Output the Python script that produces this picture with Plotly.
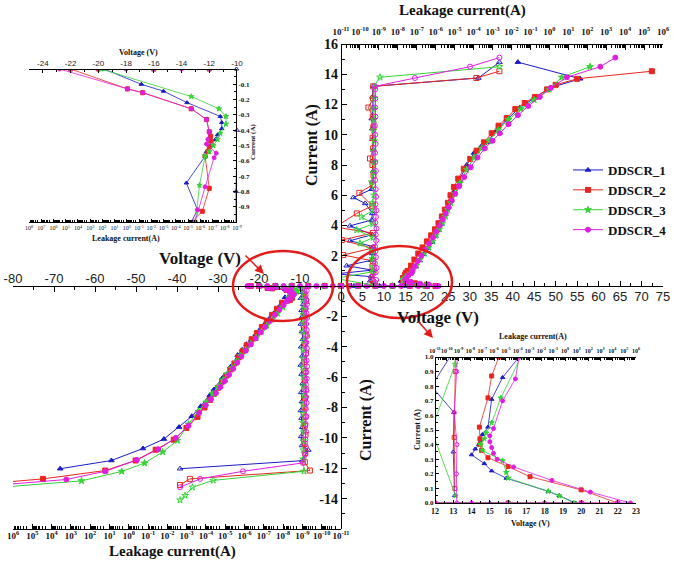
import plotly.graph_objects as go

W, H = 674, 562

series = ["DDSCR_1", "DDSCR_2", "DDSCR_3", "DDSCR_4"]
colors = ["#1c1cc8", "#e8261e", "#33d433", "#e01ee0"]
symbols = ["triangle-up", "square", "star", "circle"]

# ---- positive polarity TLP I-V: voltage (V) and current (A) ----
v_pos_1 = [0.0, 3.0, 6.0, 9.0, 12.0, 15.0, 18.0, 19.7, 18.8, 18.2, 15.9, 15.1, 14.7, 14.0, 14.2, 14.4, 14.5, 14.6, 14.9, 15.1,
           15.7, 16.6, 17.4, 18.3, 19.2, 20.2, 21.2, 22.0, 22.7, 23.4, 24.0, 24.6, 25.2, 26.2, 27.5, 29.3, 31.0, 32.6, 34.0, 36.3,
           38.6, 41.7, 44.8, 48.7, 55.7, 41.2]
i_pos_1 = [0, 0, 0, 0, 0, 0, 0, 0, 0.05, 0.08, 0.17, 0.22, 0.27, 0.33, 0.37, 0.40, 0.43, 0.47, 0.52, 0.71,
           0.86, 1.0, 1.3, 1.7, 2.1, 2.5, 2.9, 3.3, 3.7, 4.1, 4.6, 5.0, 5.5, 6.2, 7.0, 8.0, 8.8, 9.2, 9.5, 10.3,
           11.0, 11.8, 12.4, 13.1, 13.7, 14.8]
v_pos_2 = [0.0, 4.0, 8.0, 12.0, 16.0, 20.0, 22.0, 20.0, 17.2, 16.0, 14.9, 14.55, 14.46, 14.46, 14.43, 14.9, 15.1, 15.5, 16.3, 17.1,
           18.0, 19.0, 20.0, 21.0, 21.9, 22.7, 23.5, 24.2, 24.9, 25.5, 26.3, 27.3, 28.6, 30.1, 31.6, 33.3, 35.1, 36.7, 38.6, 40.6,
           42.8, 45.2, 48.0, 50.0, 55.0, 72.4]
i_pos_2 = [0, 0, 0, 0, 0, 0, 0, 0.09, 0.18, 0.25, 0.31, 0.36, 0.40, 0.44, 0.52, 0.72, 0.87, 1.0, 1.35, 1.75,
           2.15, 2.55, 2.95, 3.35, 3.75, 4.15, 4.6, 5.05, 5.5, 6.0, 6.55, 7.1, 7.75, 8.4, 8.95, 9.5, 10.1, 10.6, 11.1, 11.7,
           12.1, 12.5, 13.0, 13.3, 13.7, 14.2]
v_pos_3 = [0.0, 4.0, 8.0, 12.0, 16.0, 19.6, 18.8, 18.2, 16.0, 15.9, 15.7, 14.6, 14.5, 14.7, 14.8, 15.1, 15.6, 16.7, 17.5, 18.4,
           19.4, 20.4, 21.3, 22.1, 22.9, 23.6, 24.3, 24.9, 25.6, 26.5, 27.7, 29.3, 31.0, 32.8, 34.5, 36.6, 39.0, 41.9, 45.0, 48.5,
           51.4, 58.0]
i_pos_3 = [0, 0, 0, 0, 0, 0, 0.05, 0.08, 0.17, 0.21, 0.29, 0.36, 0.40, 0.44, 0.48, 0.55, 0.72, 1.0, 1.35, 1.75,
           2.15, 2.55, 2.95, 3.35, 3.75, 4.15, 4.6, 5.05, 5.5, 6.1, 6.8, 7.7, 8.5, 9.1, 9.6, 10.3, 11.0, 11.7, 12.3, 13.0,
           13.8, 14.5]
v_pos_4 = [0.0, 2.0, 4.0, 6.0, 8.0, 10.0, 12.0, 14.0, 16.0, 18.0, 20.0, 22.0, 22.7, 20.5, 18.4, 16.3, 15.4, 15.2, 15.1, 15.0,
           15.0, 15.2, 15.7, 16.4, 16.6, 17.2, 17.9, 18.7, 19.6, 20.5, 21.4, 22.2, 23.0, 23.7, 24.4, 25.1, 25.8, 26.6, 27.5, 28.7,
           30.2, 31.8, 33.5, 35.3, 37.0, 39.0, 41.2, 43.6, 46.3, 48.9, 52.6, 60.4, 63.9]
i_pos_4 = [0, 0, 0, 0, 0, 0, 0, 0, 0, 0, 0, 0, 0, 0.075, 0.155, 0.247, 0.30, 0.34, 0.38, 0.42,
           0.46, 0.51, 0.70, 0.85, 1.0, 1.3, 1.65, 2.0, 2.4, 2.8, 3.2, 3.6, 4.0, 4.4, 4.8, 5.2, 5.65, 6.1, 6.6, 7.2,
           7.85, 8.5, 9.1, 9.6, 10.1, 10.7, 11.3, 11.9, 12.5, 13.1, 13.8, 14.5, 15.1]

# ---- positive polarity leakage current (A) measured after each pulse current (A) ----
leak_pos_1 = [4.5e-10, 3.5e-10, 4.0e-10, 5e-12, 4.5e-10, 2.0e-11, 4.0e-10, 4.5e-10, 5.0e-10, 3.0e-11, 4.5e-10, 3.0e-11, 4.2e-10, 4.5e-10,
              1.9e-10, 4.5e-11, 4.2e-10, 4.6e-10, 5.0e-10, 4.8e-10, 5.0e-10, 4.7e-10, 4.5e-10, 4.2e-10, 5.0e-10, 4.6e-10, 5.0e-10, 1.8e-4, 2.3e-3]
li_pos_1 = [0.05, 0.35, 0.62, 0.80, 1.05, 1.34, 1.70, 2.15, 2.60, 2.99, 3.40, 3.98, 4.36, 4.80,
            5.46, 5.85, 6.40, 6.90, 7.60, 8.30, 9.00, 9.70, 10.40, 11.07, 11.80, 12.50, 13.20, 13.75, 14.80]
leak_pos_2 = [4.8e-10, 4.2e-10, 5.2e-10, 4.6e-10, 5.0e-10, 1.3e-11, 4.4e-10, 1.1e-11, 4.8e-10, 5e-12, 6.8e-11, 4.5e-10, 9.3e-11,
              4.8e-10, 5.2e-10, 4.6e-10, 3.4e-10, 5.0e-10, 4.7e-10, 5.1e-10, 4.8e-10, 2.8e-10, 4.9e-10, 5.0e-10, 1.4e-4, 2.3e-3]
li_pos_2 = [0.1, 0.45, 0.9, 1.3, 1.65, 2.05, 2.5, 3.04, 3.5, 3.9, 4.8, 5.3, 6.16,
            6.7, 7.3, 8.0, 8.43, 9.1, 9.8, 10.5, 11.2, 11.8, 12.4, 13.2, 13.75, 14.2]
leak_pos_3 = [5.5e-10, 5e-12, 5.0e-10, 5.0e-10, 4.6e-10, 5.2e-10, 1.0e-10, 5.0e-10, 6.8e-11, 4.8e-10, 1.2e-10, 5.2e-10, 4.6e-10,
              5.5e-10, 4.2e-10, 5.2e-10, 5.6e-10, 5.3e-10, 5.6e-10, 5.4e-10, 5.7e-10, 5.3e-10, 5.5e-10, 5.6e-10, 1.15e-9, 2.3e-3]
li_pos_3 = [0.05, 0.5, 0.95, 1.27, 1.8, 2.3, 2.82, 3.2, 3.7, 4.1, 4.57, 5.0, 5.5,
            6.0, 6.88, 7.5, 8.2, 8.9, 9.6, 10.3, 11.0, 11.7, 12.4, 13.2, 13.8, 14.5]
leak_pos_4 = [7e-10, 6.5e-10, 7.2e-10, 4.2e-10, 6.8e-10, 7.5e-10, 6.2e-10, 7.0e-10, 6.6e-10, 6.3e-10, 7.2e-10, 6.8e-10,
              7.5e-10, 6.4e-10, 7.0e-10, 7.4e-10, 6.6e-10, 7.1e-10, 6.8e-10, 6.3e-10, 6.9e-10, 6.5e-10, 6.2e-10, 6.7e-10,
              6.4e-10, 6.1e-10, 6.6e-10, 6.3e-10, 6.5e-10, 6.4e-10, 6.2e-10, 8.0e-8, 6.5e-5, 2.3e-3]
li_pos_4 = [0.0, 0.2, 0.4, 0.62, 0.9, 1.2, 1.5, 1.9, 2.3, 2.6, 3.0, 3.4,
            3.8, 4.2, 4.57, 5.0, 5.4, 5.9, 6.4, 7.0, 7.6, 8.2, 8.8, 9.4,
            10.0, 10.6, 11.2, 11.8, 12.4, 13.0, 13.2, 13.75, 14.5, 15.1]

# ---- negative polarity TLP I-V ----
v_neg_1 = [0.0, -4.0, -8.0, -12.0, -16.0, -19.6, -16.9, -15.3, -13.6, -11.2, -11.1, -11.1, -11.4, -11.55, -11.9, -12.2, -12.3,
           -13.65, -12.85, -13.3, -15.2, -16.4, -17.5, -18.6, -19.7, -20.8, -21.9, -23.0, -24.1, -25.2, -26.9, -28.9, -31.0,
           -32.0, -34.2, -36.4, -39.5, -43.2, -48.3, -56.0, -68.5]
i_neg_1 = [0, 0, 0, 0, 0, 0, -0.10, -0.145, -0.22, -0.31, -0.35, -0.39, -0.43, -0.46, -0.50, -0.54, -0.57,
           -0.745, -0.92, -1.0, -1.4, -1.8, -2.15, -2.5, -2.85, -3.2, -3.55, -3.83, -4.2, -4.55, -5.32, -6.05, -6.82,
           -7.19, -7.92, -8.58, -9.29, -10.08, -10.7, -11.49, -12.03]
v_neg_2 = [0.0, -4.0, -8.0, -12.0, -16.0, -20.0, -22.0, -17.9, -16.8, -13.3, -12.2, -12.0, -11.9, -11.9, -12.0, -12.1, -12.3,
           -12.0, -12.5, -14.4, -15.6, -16.8, -18.1, -19.3, -20.5, -21.8, -23.0, -24.0, -25.0, -26.0, -27.0, -28.0, -29.0,
           -30.0, -31.0, -32.0, -33.3, -35.0, -37.7, -40.8, -45.2, -50.1, -57.5, -72.7, -90.0]
i_neg_2 = [0, 0, 0, 0, 0, 0, 0, -0.13, -0.155, -0.26, -0.33, -0.41, -0.44, -0.47, -0.51, -0.54, -0.57,
           -0.78, -0.93, -1.1, -1.5, -1.9, -2.3, -2.7, -3.1, -3.5, -3.9, -4.3, -4.7, -5.1, -5.5, -5.9, -6.3,
           -6.7, -7.1, -7.5, -8.0, -8.62, -9.35, -10.12, -10.78, -11.49, -12.15, -12.7, -13.1]
v_neg_3 = [0.0, -4.0, -8.0, -12.0, -16.0, -19.8, -13.3, -11.3, -10.8, -10.8, -11.2, -11.4, -11.7, -12.0, -12.3, -12.7, -13.0,
           -14.2, -15.5, -16.8, -18.1, -19.4, -20.7, -22.0, -23.2, -24.4, -25.5, -26.6, -27.7, -28.8, -30.0, -31.3, -32.9,
           -34.8, -37.2, -39.9, -43.5, -47.9, -53.5, -63.3, -90.0]
i_neg_3 = [0, 0, 0, 0, 0, 0, -0.18, -0.26, -0.31, -0.36, -0.42, -0.46, -0.50, -0.54, -0.57, -0.76, -1.0,
           -1.4, -1.8, -2.2, -2.6, -3.0, -3.4, -3.8, -4.2, -4.6, -5.0, -5.4, -5.8, -6.2, -6.65, -7.1, -7.65,
           -8.25, -9.1, -10.17, -10.93, -11.66, -12.21, -12.83, -13.4]
v_neg_4 = [0.0, -2.0, -4.0, -6.0, -8.0, -10.0, -12.0, -14.0, -16.0, -18.0, -20.0, -22.0, -22.8, -17.9, -16.8, -13.3, -12.2,
           -12.0, -12.1, -12.2, -11.5, -11.65, -12.3, -12.85, -13.2, -14.0, -15.0, -16.1, -17.3, -18.5, -19.6, -20.8, -22.0,
           -23.2, -24.3, -25.3, -26.3, -27.3, -28.3, -29.4, -30.5, -31.7, -33.0, -34.6, -37.2, -40.3, -44.6, -49.8, -57.5,
           -67.0, -90.0]
i_neg_4 = [0, 0, 0, 0, 0, 0, 0, 0, 0, 0, 0, 0, 0, -0.13, -0.155, -0.26, -0.33,
           -0.41, -0.46, -0.49, -0.55, -0.58, -0.77, -0.92, -1.0, -1.25, -1.55, -1.9, -2.3, -2.7, -3.05, -3.45, -3.85,
           -4.25, -4.65, -5.05, -5.45, -5.85, -6.25, -6.65, -7.05, -7.45, -7.85, -8.35, -9.2, -10.0, -10.75, -11.45, -12.2,
           -12.74, -13.25]

# ---- negative polarity leakage current (A) ----
leak_neg_1 = [1.1e-9, 1.0e-9, 1.2e-9, 9e-10, 1.1e-9, 1.0e-9, 1.2e-9, 1.05e-9, 9.5e-10, 1.15e-9, 1.0e-9, 1.2e-9,
              1.1e-9, 9.5e-10, 1.15e-9, 1.05e-9, 1.2e-9, 1.1e-9, 1.0e-9, 1.15e-9, 1.05e-9, 5e-10, 1.0e-9, 2.2e-3]
li_neg_1 = [0, -0.4, -0.8, -1.2, -1.6, -2.0, -2.5, -3.0, -3.5, -4.0, -4.6, -5.2,
            -5.8, -6.4, -7.0, -7.6, -8.2, -8.7, -9.3, -9.9, -10.5, -10.8, -11.5, -12.03]
leak_neg_2 = [7e-10, 8e-10, 6.5e-10, 7.5e-10, 7e-10, 8e-10, 6.8e-10, 7.2e-10, 6.5e-10, 7.8e-10, 7e-10, 7.5e-10,
              6.8e-10, 7.3e-10, 7.8e-10, 7e-10, 7.4e-10, 6.9e-10, 7.6e-10, 7.1e-10, 7.5e-10, 4.1e-10, 6.8e-4, 2.2e-3]
li_neg_2 = [0, -0.5, -1.0, -1.5, -2.0, -2.6, -3.2, -3.8, -4.4, -5.0, -5.6, -6.2,
            -6.8, -7.4, -8.0, -8.6, -9.2, -9.8, -10.4, -11.0, -11.6, -12.15, -12.7, -13.1]
leak_neg_3 = [9e-10, 8.5e-10, 9.5e-10, 8e-10, 9e-10, 8.8e-10, 9.3e-10, 8.5e-10, 9e-10, 8.7e-10, 9.2e-10, 8.6e-10, 9e-10,
              8.4e-10, 9.1e-10, 8.8e-10, 9.4e-10, 8.6e-10, 9e-10, 8.9e-10, 9.2e-10, 8.3e-10, 4.2e-5, 5e-4, 1.2e-3, 2.2e-3]
li_neg_3 = [0, -0.45, -0.9, -1.4, -1.9, -2.4, -3.0, -3.6, -4.2, -4.8, -5.4, -6.0, -6.6,
            -7.2, -7.8, -8.4, -9.0, -9.6, -10.2, -10.8, -11.4, -12.2, -12.8, -13.25, -13.8, -14.1]
leak_neg_4 = [6.5e-10, 6.0e-10, 6.8e-10, 6.2e-10, 5.8e-10, 6.6e-10, 6.1e-10, 5.7e-10, 6.4e-10, 6.0e-10, 5.6e-10,
              6.3e-10, 5.9e-10, 6.5e-10, 6.1e-10, 5.8e-10, 6.4e-10, 6.0e-10, 6.6e-10, 6.2e-10, 6.5e-10, 6.0e-10,
              6.7e-10, 6.3e-10, 6.8e-10, 6.5e-10, 7.0e-10, 6.6e-10, 7.2e-10, 9.5e-10, 1.2e-6, 2.0e-4, 2.2e-3]
li_neg_4 = [0, -0.3, -0.6, -0.9, -1.2, -1.5, -1.8, -2.1, -2.5, -2.9, -3.3,
            -3.7, -4.1, -4.5, -4.9, -5.3, -5.7, -6.1, -6.5, -6.9, -7.3, -7.7,
            -8.1, -8.6, -9.1, -9.6, -10.1, -10.6, -11.1, -11.65, -12.2, -12.7, -13.25]

v_pos = [v_pos_1, v_pos_2, v_pos_3, v_pos_4]
i_pos = [i_pos_1, i_pos_2, i_pos_3, i_pos_4]
leak_pos = [leak_pos_1, leak_pos_2, leak_pos_3, leak_pos_4]
li_pos = [li_pos_1, li_pos_2, li_pos_3, li_pos_4]
v_neg = [v_neg_1, v_neg_2, v_neg_3, v_neg_4]
i_neg = [i_neg_1, i_neg_2, i_neg_3, i_neg_4]
leak_neg = [leak_neg_1, leak_neg_2, leak_neg_3, leak_neg_4]
li_neg = [li_neg_1, li_neg_2, li_neg_3, li_neg_4]

# axis tick labels
v_pos_ticks = list(range(0, 80, 5))
v_neg_ticks = list(range(-80, 0, 10))
i_pos_ticks = list(range(2, 18, 2))
i_neg_ticks = list(range(-14, 0, 2))
leak_exps = list(range(-11, 7))
inset_neg_v_ticks = list(range(-24, -8, 2))
inset_neg_i_ticks = [-0.1, -0.2, -0.3, -0.4, -0.5, -0.6, -0.7, -0.8, -0.9]
inset_neg_leak_exps = list(range(8, -10, -1))
inset_pos_v_ticks = list(range(12, 24))
inset_pos_i_ticks = [0.0, 0.1, 0.2, 0.3, 0.4, 0.5, 0.6, 0.7, 0.8, 0.9, 1.0]


def fx(p):
    return p / W


def fy(p):
    return 1 - p / H


SERIF = "Liberation Serif"
SANS = "Liberation Sans"

fig = go.Figure()


def add(x, y, xa, ya, k, hollow, size, legend=False, clip=True, lw=1.0):
    sym = symbols[k] + ("-open" if hollow else "")
    fig.add_trace(go.Scatter(
        x=x, y=y, xaxis=xa, yaxis=ya, mode="lines+markers",
        name=series[k], legendgroup=series[k], showlegend=legend,
        line=dict(color=colors[k], width=lw),
        marker=dict(symbol=sym, size=size, color=colors[k],
                    line=dict(width=1, color=colors[k])),
        cliponaxis=clip))


for k in range(4):
    # main plot: positive I-V and leakage
    add(v_pos[k], i_pos[k], "x", "y", k, False, 5, legend=True, clip=False)
    add(leak_pos[k], li_pos[k], "x3", "y", k, True, 5)
    # main plot: negative I-V and leakage
    add(v_neg[k], i_neg[k], "x2", "y2", k, False, 5, clip=False)
    add(leak_neg[k], li_neg[k], "x4", "y2", k, True, 5)
    # negative snapback inset
    add(v_neg[k], i_neg[k], "x5", "y3", k, False, 4, lw=0.8)
    add(leak_neg[k], li_neg[k], "x6", "y3", k, True, 4, clip=False, lw=0.8)
    # positive snapback inset
    add(v_pos[k], i_pos[k], "x7", "y4", k, False, 4, lw=0.8)
    add(leak_pos[k], li_pos[k], "x8", "y4", k, True, 4, lw=0.8)


def axis(**kw):
    base = dict(showline=True, linecolor="black", linewidth=1.4, showgrid=False,
                zeroline=False, ticks="inside", ticklen=5, tickwidth=1.2,
                tickcolor="black", automargin=False, fixedrange=True,
                tickmode="array", tickangle=0)
    base.update(kw)
    return base


def minor_log(lo, hi):
    vals = []
    for e in range(lo, hi):
        for m in range(2, 10):
            vals.append(m * 10.0 ** e)
    return vals


tick_sans = dict(family=SANS, size=13, color="#222")
tick_serif = dict(family=SERIF, size=14, color="#111", weight="bold")
log_font = dict(family=SERIF, size=9, color="#111", weight="bold")
inset_font = dict(family=SERIF, size=7, color="#111", weight="bold")

RIGHT_X = [fx(341), fx(663)]
LEFT_X = [fx(13), fx(341)]
UPPER_Y = [fy(286), fy(44)]
LOWER_Y = [fy(529), fy(286)]
TL_X = [fx(29), fx(237)]
TL_Y = [fy(222), fy(69)]
BR_X = [fx(435), fx(636)]
BR_Y = [fy(503), fy(357)]

fig.update_layout(
    width=W, height=H, autosize=False,
    margin=dict(l=0, r=0, t=0, b=0),
    paper_bgcolor="white", plot_bgcolor="rgba(0,0,0,0)",
    # main: positive voltage / current
    xaxis=axis(range=[0, 75], domain=RIGHT_X, anchor="free", position=fy(286), side="bottom",
               tickvals=v_pos_ticks, ticktext=[str(v) for v in v_pos_ticks], tickfont=tick_sans,
               ticklabelstandoff=-2,
               minor=dict(ticks="inside", ticklen=3, dtick=2.5, tick0=0, tickcolor="black")),
    yaxis=axis(range=[0, 16], domain=UPPER_Y, anchor="free", position=fx(341), side="left",
               tickvals=i_pos_ticks, ticktext=[str(v) for v in i_pos_ticks], tickfont=tick_serif,
               minor=dict(ticks="inside", ticklen=3, dtick=1, tick0=0, tickcolor="black")),
    # main: negative voltage / current
    xaxis2=axis(range=[-80, 0], domain=LEFT_X, anchor="free", position=fy(286), side="top",
                tickvals=v_neg_ticks, ticktext=[str(v) for v in v_neg_ticks], tickfont=tick_sans,
                ticklabelstandoff=-2,
                minor=dict(ticks="inside", ticklen=3, dtick=5, tick0=0, tickcolor="black")),
    yaxis2=axis(range=[-16, 0], domain=LOWER_Y, anchor="free", position=fx(341), side="left",
                tickvals=i_neg_ticks, ticktext=[str(v) for v in i_neg_ticks], tickfont=tick_serif,
                minor=dict(ticks="inside", ticklen=3, dtick=1, tick0=0, tickcolor="black")),
    # main: leakage axes
    xaxis3=axis(type="log", range=[-11, 6], overlaying="x", anchor="free", position=fy(44), side="top",
                tickvals=[10.0 ** e for e in leak_exps], ticktext=[f"10<sup>{e}</sup>" for e in leak_exps],
                tickfont=log_font, ticklen=5, ticklabelstandoff=5,
                minor=dict(ticks="inside", ticklen=3, tickvals=minor_log(-11, 6), tickcolor="black")),
    xaxis4=axis(type="log", range=[6, -11], overlaying="x2", anchor="free", position=fy(529), side="bottom",
                tickvals=[10.0 ** e for e in leak_exps], ticktext=[f"10<sup>{e}</sup>" for e in leak_exps],
                tickfont=log_font, ticklen=5, ticklabelstandoff=-2,
                minor=dict(ticks="inside", ticklen=3, tickvals=minor_log(-11, 6), tickcolor="black")),
    # negative snapback inset
    xaxis5=axis(range=[-25, -10], domain=TL_X, anchor="free", position=fy(69), side="top",
                tickvals=inset_neg_v_ticks, ticktext=[str(v) for v in inset_neg_v_ticks],
                tickfont=dict(family=SANS, size=8, color="#222"), ticklen=3, linewidth=1.2,
                minor=dict(ticks="inside", ticklen=2, dtick=1, tick0=0, tickcolor="black")),
    yaxis3=axis(range=[-1, 0], domain=TL_Y, anchor="free", position=fx(236), side="right",
                tickvals=inset_neg_i_ticks, ticktext=[f"{v:.1f}" for v in inset_neg_i_ticks],
                tickfont=inset_font, ticklen=3, linewidth=1.2,
                minor=dict(ticks="inside", ticklen=2, dtick=0.05, tick0=0, tickcolor="black")),
    xaxis6=axis(type="log", range=[8, -9], overlaying="x5", anchor="free", position=fy(222), side="bottom",
                tickvals=[10.0 ** e for e in inset_neg_leak_exps],
                ticktext=[f"10<sup>{e}</sup>" for e in inset_neg_leak_exps],
                tickfont=dict(family=SERIF, size=6, color="#111"), ticklen=3, linewidth=1.2,
                minor=dict(ticks="inside", ticklen=2, tickvals=minor_log(-9, 8), tickcolor="black")),
    # positive snapback inset
    xaxis7=axis(range=[12, 23], domain=BR_X, anchor="free", position=fy(503), side="bottom",
                tickvals=inset_pos_v_ticks, ticktext=[str(v) for v in inset_pos_v_ticks],
                tickfont=dict(family=SERIF, size=8, color="#111", weight="bold"), ticklen=3, linewidth=1.2,
                minor=dict(ticks="inside", ticklen=2, dtick=0.5, tick0=0, tickcolor="black")),
    yaxis4=axis(range=[0, 1], domain=BR_Y, anchor="free", position=fx(435), side="left",
                tickvals=inset_pos_i_ticks, ticktext=[f"{v:.1f}" for v in inset_pos_i_ticks],
                tickfont=inset_font, ticklen=3, linewidth=1.2,
                minor=dict(ticks="inside", ticklen=2, dtick=0.05, tick0=0, tickcolor="black")),
    xaxis8=axis(type="log", range=[-11, 6], overlaying="x7", anchor="free", position=fy(357), side="top",
                tickvals=[10.0 ** e for e in leak_exps], ticktext=[f"10<sup>{e}</sup>" for e in leak_exps],
                tickfont=dict(family=SERIF, size=6, color="#111", weight="bold"), ticklen=3, linewidth=1.2,
                ticklabelstandoff=2,
                minor=dict(ticks="inside", ticklen=2, tickvals=minor_log(-11, 6), tickcolor="black")),
    legend=dict(x=fx(568), y=fy(200), xanchor="left", yanchor="middle",
                bgcolor="rgba(0,0,0,0)", borderwidth=0, tracegroupgap=0,
                font=dict(family=SERIF, size=13, color="#111", weight="bold"),
                itemwidth=30),
    showlegend=True,
)


def label(text, x, y, size, angle=0, weight="bold"):
    fig.add_annotation(text=text, x=fx(x), y=fy(y), xref="paper", yref="paper",
                       showarrow=False, textangle=angle, xanchor="center", yanchor="middle",
                       font=dict(family=SERIF, size=size, color="#111", weight=weight))


label("Leakage current(A)", 462, 11, 15)
label("Voltage (V)", 438, 317, 17)
label("Voltage (V)", 200, 258, 17)
label("Leakage current(A)", 172, 551, 15)
label("Current (A)", 312, 145, 16, angle=-90)
label("Current (A)", 366, 420, 16, angle=-90)
label("Voltage (V)", 138, 53, 8)
label("Leakage current(A)", 126, 238, 8)
label("Current (A)", 253, 142, 7, angle=-90)
label("Leakage current(A)", 533, 336, 8)
label("Voltage (V)", 530, 523, 8)
label("Current (A)", 417, 430, 8, angle=-90)

# red highlight ellipses around the snapback regions
for x0, y0, x1, y1 in [(233, 251, 333, 321), (347, 246, 452, 318)]:
    fig.add_shape(type="circle", xref="paper", yref="paper",
                  x0=fx(x0), x1=fx(x1), y0=fy(y1), y1=fy(y0),
                  line=dict(color="#e21b1b", width=2.5), layer="above")

# arrows pointing from the insets to the highlighted regions
for (tx, ty), (hx, hy) in [((244, 254), (264, 274)), ((417, 320), (433, 338))]:
    fig.add_annotation(x=fx(hx), y=fy(hy), xref="paper", yref="paper",
                       ax=tx - hx, ay=ty - hy, axref="pixel", ayref="pixel",
                       text="", showarrow=True, arrowhead=2, arrowsize=1.2,
                       arrowwidth=1.5, arrowcolor="#e21b1b")

fig.write_html("out.html")
